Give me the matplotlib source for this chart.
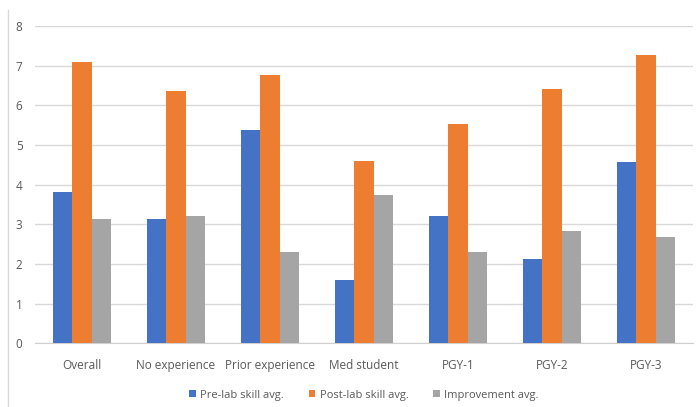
import numpy as np
import matplotlib.pyplot as plt
from matplotlib.lines import Line2D

groups = ['Overall', 'No experience', 'Prior experience', 'Med student',
          'PGY-1', 'PGY-2', 'PGY-3']
pre_lab = [3.81, 3.14, 5.39, 1.60, 3.21, 2.12, 4.56]
post_lab = [7.08, 6.37, 6.77, 4.60, 5.54, 6.40, 7.28]
improvement = [3.14, 3.21, 2.31, 3.75, 2.31, 2.83, 2.69]
series_names = ['Pre-lab skill avg.', 'Post-lab skill avg.', 'Improvement avg.']
colors = ['#4472C4', '#ED7D31', '#A5A5A5']

plt.rcParams['font.family'] = ['Open Sans', 'DejaVu Sans']
text_color = '#595959'

fig = plt.figure(figsize=(6.99, 4.07), dpi=100)
ax = fig.add_axes([35 / 699, 1 - 343.3 / 407, (693 - 35) / 699, (343.3 - 26) / 407])

x = np.arange(len(groups))
width = 0.207
for i, (vals, name) in enumerate(zip([pre_lab, post_lab, improvement], series_names)):
    ax.bar(x + (i - 1) * width, vals, width=width, color=colors[i], label=name, zorder=3)

ax.set_xlim(-0.5, len(groups) - 0.5)
ax.set_ylim(0, 8)
ax.set_yticks(range(0, 9))
ax.set_xticks(x)
ax.set_xticklabels(groups)
ax.grid(axis='y', color='#D9D9D9', lw=1.0, zorder=0)
for side in ['top', 'right', 'left']:
    ax.spines[side].set_visible(False)
ax.spines['bottom'].set_color('#D0D0D0')
ax.tick_params(length=0, colors=text_color, labelsize=8.5)
ax.tick_params(axis='y', pad=9)
ax.tick_params(axis='x', pad=11)

ax.legend(loc='upper center', bbox_to_anchor=(0.5, -0.115), ncol=3, frameon=False,
          fontsize=8, labelcolor=text_color, handlelength=0.6, handleheight=0.6,
          handletextpad=0.4, columnspacing=2.2)

# chart frame edge on the left
fig.add_artist(Line2D([8 / 699, 8 / 699], [0, 1 - 10 / 407], color='#D9D9D9', lw=1.0,
                      transform=fig.transFigure))

fig.savefig('out.png', dpi=100)
